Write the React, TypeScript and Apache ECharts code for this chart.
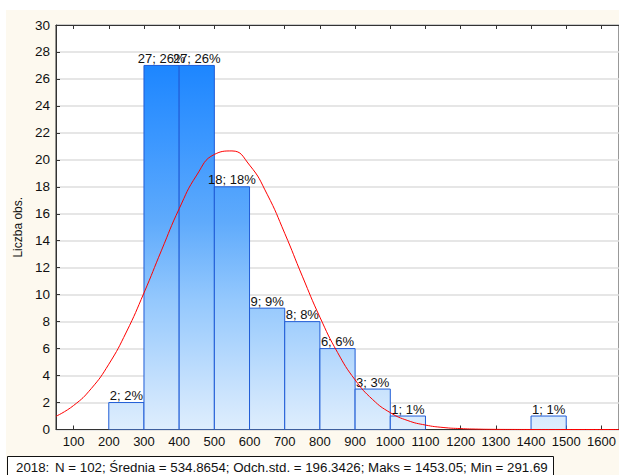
import { useEffect, useRef } from "react";
import * as echarts from "echarts";

// Histogram bins (lower and upper class limits) and counts
const binStarts = [200, 300, 400, 500, 600, 700, 800, 900, 1000, 1400];
const binEnds = [300, 400, 500, 600, 700, 800, 900, 1000, 1100, 1500];
const counts = [2, 27, 27, 18, 9, 8, 6, 3, 1, 1];
const totalN = 102;

// Tick labels on the horizontal axis
const xTicks = [100, 200, 300, 400, 500, 600, 700, 800, 900, 1000, 1100, 1200, 1300, 1400, 1500, 1600];

// Fitted normal curve, sampled every 50 units
const curveX = [50, 100, 150, 200, 250, 300, 350, 400, 450, 500, 550, 600, 650, 700, 750, 800, 850, 900, 950, 1000, 1050, 1100, 1150, 1200, 1250, 1300, 1350, 1400, 1500, 1650];
const curveY = [0.98, 1.78, 3.03, 4.84, 7.23, 10.13, 13.3, 16.37, 18.87, 20.4, 20.66, 19.61, 17.45, 14.55, 11.37, 8.33, 5.72, 3.68, 2.22, 1.25, 0.66, 0.33, 0.15, 0.067, 0.027, 0.01, 0.004, 0.001, 0, 0];

const footerLead = "2018:";
const footerStats = "N = 102; Średnia = 534.8654; Odch.std. = 196.3426; Maks = 1453.05; Min = 291.69";

const FONT = "Arial, 'Liberation Sans', sans-serif";

export default function App() {
  const ref = useRef<HTMLDivElement>(null);

  useEffect(() => {
    if (!ref.current) return;
    const chart = echarts.init(ref.current, null, { renderer: "svg" });

    const barData = binStarts.map((s, i) => [s, binEnds[i], counts[i]]);
    const curveData = curveX.map((x, i) => [x, curveY[i]]);

    const stops = [
      { offset: 0, color: "#157eff" },
      { offset: 0.1, color: "#1d86ff" },
      { offset: 0.283, color: "#3b97ff" },
      { offset: 0.483, color: "#5eaafc" },
      { offset: 0.68, color: "#94c8fd" },
      { offset: 0.933, color: "#d0e6fd" },
      { offset: 1, color: "#deeefd" },
    ];

    const option: any = {
      animation: false,
      backgroundColor: "#fdf9ef",
      textStyle: { fontFamily: FONT },
      grid: {
        left: 56,
        right: -1,
        top: 25,
        bottom: 45.5,
        show: true,
        backgroundColor: "#ffffff",
        borderColor: "#333333",
        borderWidth: 1,
      },
      xAxis: [
        {
          type: "value",
          min: 50,
          max: 1650,
          position: "bottom",
          splitLine: { show: false },
          axisLine: { show: true, lineStyle: { color: "#333333", width: 1 } },
          axisTick: {
            show: true,
            inside: true,
            length: 4,
            customValues: xTicks,
            lineStyle: { color: "#333333" },
          },
          axisLabel: {
            customValues: xTicks,
            formatter: (v: number) => String(v),
            color: "#111111",
            fontSize: 13,
            fontFamily: FONT,
            margin: 5,
          },
        },
        {
          type: "value",
          min: 50,
          max: 1650,
          position: "top",
          splitLine: { show: false },
          axisLine: { show: true, lineStyle: { color: "#333333", width: 1 } },
          axisTick: {
            show: true,
            inside: true,
            length: 4,
            customValues: xTicks,
            lineStyle: { color: "#333333" },
          },
          axisLabel: { show: false },
        },
      ],
      yAxis: {
        type: "value",
        min: 0,
        max: 30,
        interval: 2,
        name: "Liczba obs.",
        nameLocation: "middle",
        nameRotate: 90,
        nameGap: 31,
        nameTextStyle: { fontSize: 12, color: "#111111", fontFamily: FONT },
        axisLine: { show: true, lineStyle: { color: "#333333", width: 1 } },
        axisTick: { show: true, inside: true, length: 4, lineStyle: { color: "#333333" } },
        axisLabel: { color: "#111111", fontSize: 13.5, fontFamily: FONT, margin: 6 },
        splitLine: { show: true, lineStyle: { color: "#dedede", width: 1.5 } },
      },
      graphic: [
        { type: "rect", shape: { x: 0, y: 0, width: 619, height: 10 }, style: { fill: "#ffffff" }, silent: true },
        { type: "rect", shape: { x: 0, y: 0, width: 6, height: 475 }, style: { fill: "#ffffff" }, silent: true },
        {
          type: "rect",
          shape: { x: 7.5, y: 456.5, width: 546, height: 25 },
          style: { fill: "#ffffff", stroke: "#111111", lineWidth: 1 },
          silent: true,
        },
        {
          type: "text",
          x: 16,
          y: 467,
          style: { text: footerLead, font: `13.3px ${FONT}`, fill: "#111111", verticalAlign: "middle" },
          silent: true,
        },
        {
          type: "text",
          x: 55,
          y: 467,
          style: { text: footerStats, font: `13.3px ${FONT}`, fill: "#111111", verticalAlign: "middle" },
          silent: true,
        },
      ],
      series: [
        {
          type: "custom",
          data: barData,
          clip: true,
          z: 2,
          renderItem: (params: any, api: any) => {
            const x0 = api.value(0);
            const x1 = api.value(1);
            const n = api.value(2);
            const pLeftTop = api.coord([x0, n]);
            const pRightBottom = api.coord([x1, 0]);
            const yTop = api.coord([x0, 30])[1];
            const yBottom = pRightBottom[1];
            const pct = Math.round((n / totalN) * 100);
            return {
              type: "group",
              children: [
                {
                  type: "rect",
                  shape: {
                    x: pLeftTop[0],
                    y: pLeftTop[1],
                    width: pRightBottom[0] - pLeftTop[0],
                    height: pRightBottom[1] - pLeftTop[1],
                  },
                  style: {
                    fill: new echarts.graphic.LinearGradient(0, yTop, 0, yBottom, stops, true),
                    stroke: "#1f5cd6",
                    lineWidth: 1,
                  },
                },
                {
                  type: "text",
                  x: (pLeftTop[0] + pRightBottom[0]) / 2,
                  y: pLeftTop[1] - 0.5,
                  z2: 10,
                  style: {
                    text: `${n}; ${pct}%`,
                    font: `13px ${FONT}`,
                    fill: "#111111",
                    align: "center",
                    verticalAlign: "bottom",
                  },
                },
              ],
            };
          },
        },
        {
          type: "line",
          data: curveData,
          smooth: true,
          showSymbol: false,
          symbol: "none",
          z: 3,
          lineStyle: { color: "#ff0000", width: 1 },
        },
      ],
    };

    chart.setOption(option);
    return () => chart.dispose();
  }, []);

  return (
    <div
      ref={ref}
      style={{ position: "fixed", left: 0, top: 0, width: 619, height: 475 }}
    />
  );
}
